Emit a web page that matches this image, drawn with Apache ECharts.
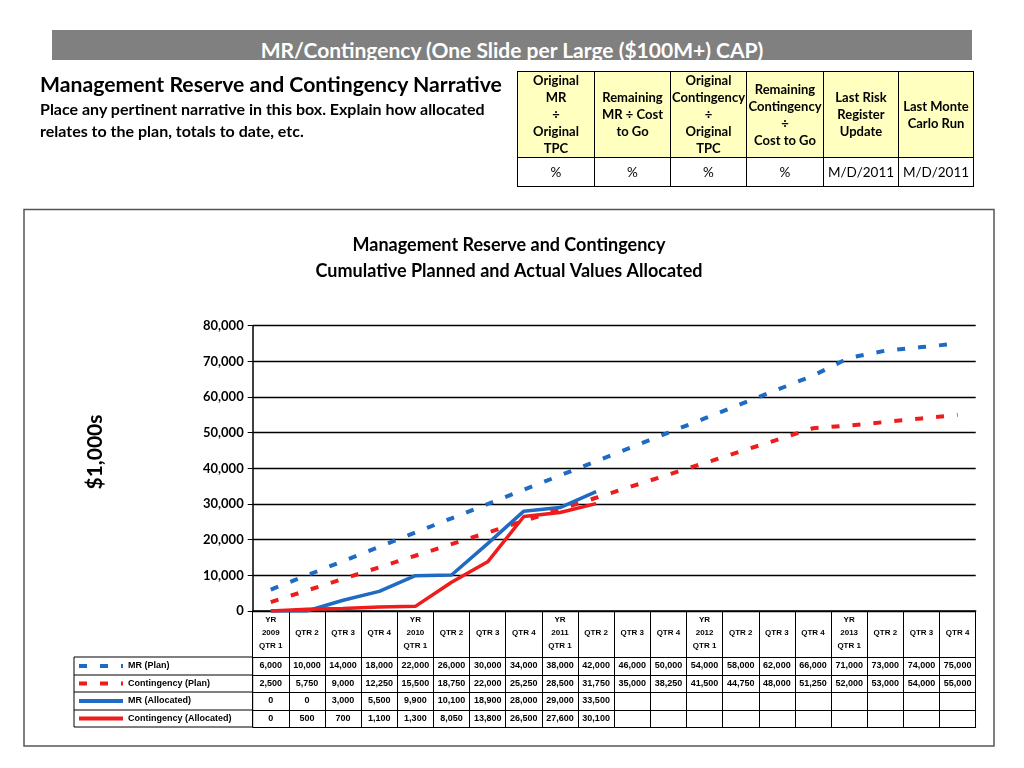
<!DOCTYPE html>
<html>
<head>
<meta charset="utf-8">
<script src="https://cdn.jsdelivr.net/npm/echarts@6/dist/echarts.min.js"></script>
<style>
html,body{margin:0;padding:0;background:#fff;}
#chart{position:absolute;left:0;top:0;width:1024px;height:768px;}
.banner{position:absolute;left:52px;top:30px;width:920px;height:30px;overflow:hidden;background:#808080;color:#fff;font:bold 21px Lato, sans-serif;text-align:center;line-height:40px;z-index:2;}
.narr{position:absolute;left:40px;top:71px;width:480px;z-index:2;font-family:Lato, sans-serif;font-weight:bold;color:#000;}
.narr .h{font-size:21.2px;line-height:27px;}
.narr .b{font-size:16px;line-height:22px;}
table.kpi{position:absolute;left:517px;top:71px;border-collapse:collapse;z-index:2;font-family:Lato, sans-serif;color:#000;table-layout:fixed;}
table.kpi td{border:1px solid #000;text-align:center;padding:0;overflow:visible;white-space:nowrap;}
table.kpi tr.hd td{background:#FFFFC0;font-weight:bold;font-size:13px;line-height:17px;height:85px;}
table.kpi tr.dt td{font-size:13.5px;height:28px;}
</style>
</head>
<body>
<div id="chart"></div>
<div class="banner">MR/Contingency (One Slide per Large ($100M+) CAP)</div>
<div class="narr">
<div class="h">Management Reserve and Contingency Narrative</div>
<div class="b">Place any pertinent narrative in this box. Explain how allocated<br>relates to the plan, totals to date, etc.</div>
</div>
<table class="kpi">
<colgroup><col style="width:77px"><col style="width:76px"><col style="width:76px"><col style="width:77px"><col style="width:75px"><col style="width:75px"></colgroup>
<tr class="hd"><td>Original<br>MR<br>÷<br>Original<br>TPC</td><td>Remaining<br>MR ÷ Cost<br>to Go</td><td>Original<br>Contingency<br>÷<br>Original<br>TPC</td><td>Remaining<br>Contingency<br>÷<br>Cost to Go</td><td>Last Risk<br>Register<br>Update</td><td>Last Monte<br>Carlo Run</td></tr>
<tr class="dt"><td>%</td><td>%</td><td>%</td><td>%</td><td>M/D/2011</td><td>M/D/2011</td></tr>
</table>
<script>
// ---- data ----
const categories = [
  'YR\n2009\nQTR 1','QTR 2','QTR 3','QTR 4',
  'YR\n2010\nQTR 1','QTR 2','QTR 3','QTR 4',
  'YR\n2011\nQTR 1','QTR 2','QTR 3','QTR 4',
  'YR\n2012\nQTR 1','QTR 2','QTR 3','QTR 4',
  'YR\n2013\nQTR 1','QTR 2','QTR 3','QTR 4'
];
const seriesNames = ['MR (Plan)','Contingency (Plan)','MR (Allocated)','Contingency (Allocated)'];
const mrPlan = [6000,10000,14000,18000,22000,26000,30000,34000,38000,42000,46000,50000,54000,58000,62000,66000,71000,73000,74000,75000];
const contPlan = [2500,5750,9000,12250,15500,18750,22000,25250,28500,31750,35000,38250,41500,44750,48000,51250,52000,53000,54000,55000];
const mrAlloc = [0,0,3000,5500,9900,10100,18900,28000,29000,33500,null,null,null,null,null,null,null,null,null,null];
const contAlloc = [0,500,700,1100,1300,8050,13800,26500,27600,30100,null,null,null,null,null,null,null,null,null,null];
const yTicks = {min:0, max:80000, interval:10000};

// ---- chart ----
const BLUE = '#1F6BC4', RED = '#EE1C1C';
const fmt = v => (v === null || v === undefined) ? '' : v.toLocaleString('en-US');
const tableRows = [mrPlan, contPlan, mrAlloc, contAlloc];
const rowOffsets = [46, 64, 81, 99];
const rowMargins = [9, 8.5, 9, 8.5];
const legendTops = [661, 678.5, 696, 713.5];
const tblFont = 'Liberation Sans';

const xAxes = [{
  type:'category', data:categories, position:'bottom', boundaryGap:true,
  axisLine:{lineStyle:{color:'#000', width:1.5}},
  axisTick:{show:true, interval:0, length:116, lineStyle:{color:'#000', width:1}},
  axisLabel:{interval:0, margin:22, verticalAlign:'middle', lineHeight:13, fontSize:8, fontWeight:'bold', fontFamily:tblFont, color:'#000'}
}];
tableRows.forEach((row, k) => xAxes.push({
  type:'category', data:categories, position:'bottom', offset:rowOffsets[k], boundaryGap:true,
  axisLine:{lineStyle:{color:'#000', width:1}}, axisTick:{show:false}, splitLine:{show:false},
  axisLabel:{interval:0, margin:rowMargins[k], verticalAlign:'middle', fontSize:9, fontWeight:'bold', fontFamily:tblFont, color:'#000',
    formatter:(v, i) => fmt(row[i])}
}));
xAxes.push({type:'category', data:categories, position:'bottom', offset:116, boundaryGap:true,
  axisLine:{lineStyle:{color:'#000', width:1}}, axisTick:{show:false}, axisLabel:{show:false}, splitLine:{show:false}});

const lineStyles = [
  {color:BLUE, width:4, type:[8,13]},
  {color:RED, width:4, type:[8,13]},
  {color:BLUE, width:3.5, type:'solid'},
  {color:RED, width:3.5, type:'solid'}
];
const seriesData = [mrPlan, contPlan, mrAlloc, contAlloc];

const chart = echarts.init(document.getElementById('chart'));
chart.setOption({
  animation:false,
  grid:{left:252.7, right:48.3, top:325.7, bottom:157, outerBoundsMode:'none', containLabel:false},
  xAxis:xAxes,
  yAxis:{type:'value', min:yTicks.min, max:yTicks.max, interval:yTicks.interval,
    axisLine:{show:true, lineStyle:{color:'#000', width:1.5}},
    axisTick:{show:true, length:5, lineStyle:{color:'#000', width:1}},
    splitLine:{show:true, lineStyle:{color:'#000', width:1.3}},
    axisLabel:{formatter:v => fmt(v), fontSize:13, fontWeight:'bold', fontFamily:'Lato', color:'#000', margin:9}},
  legend:seriesNames.map((n, k) => ({
    data:[n], left:77, top:legendTops[k], orient:'horizontal', padding:0, itemWidth:44, itemHeight:10,
    selectedMode:false, lineStyle:{width:4},
    itemStyle:{color:'rgba(0,0,0,0)', borderWidth:0, opacity:0},
    textStyle:{fontSize:9, fontWeight:'bold', fontFamily:tblFont, color:'#000', lineHeight:10}
  })),
  series:seriesNames.map((n, k) => ({
    name:n, type:'line', data:seriesData[k], xAxisIndex:0, yAxisIndex:0, symbol:'none', showSymbol:false,
    connectNulls:false, lineStyle:lineStyles[k], itemStyle:{color:lineStyles[k].color}, z:2 + k
  })),
  graphic:[
    {type:'rect', shape:{x:24, y:209.5, width:970, height:536.5}, style:{fill:'none', stroke:'#555', lineWidth:1.5}, z:-1},
    {type:'rect', shape:{x:74, y:657, width:178.7, height:70}, style:{fill:'none', stroke:'#000', lineWidth:1}},
    {type:'line', shape:{x1:74, y1:675, x2:252.7, y2:675}, style:{stroke:'#000', lineWidth:1}},
    {type:'line', shape:{x1:74, y1:692, x2:252.7, y2:692}, style:{stroke:'#000', lineWidth:1}},
    {type:'line', shape:{x1:74, y1:710, x2:252.7, y2:710}, style:{stroke:'#000', lineWidth:1}},
    {type:'text', style:{text:'Management Reserve and Contingency', x:509, y:245, align:'center', verticalAlign:'middle', font:'bold 18px Lato', fill:'#000'}},
    {type:'text', style:{text:'Cumulative Planned and Actual Values Allocated', x:509, y:271, align:'center', verticalAlign:'middle', font:'bold 18px Lato', fill:'#000'}},
    {type:'text', x:95, y:452, rotation:Math.PI/2, style:{text:'$1,000s', x:0, y:0, align:'center', verticalAlign:'middle', font:'bold 21px Lato', fill:'#000'}}
  ]
});
</script>
</body>
</html>
